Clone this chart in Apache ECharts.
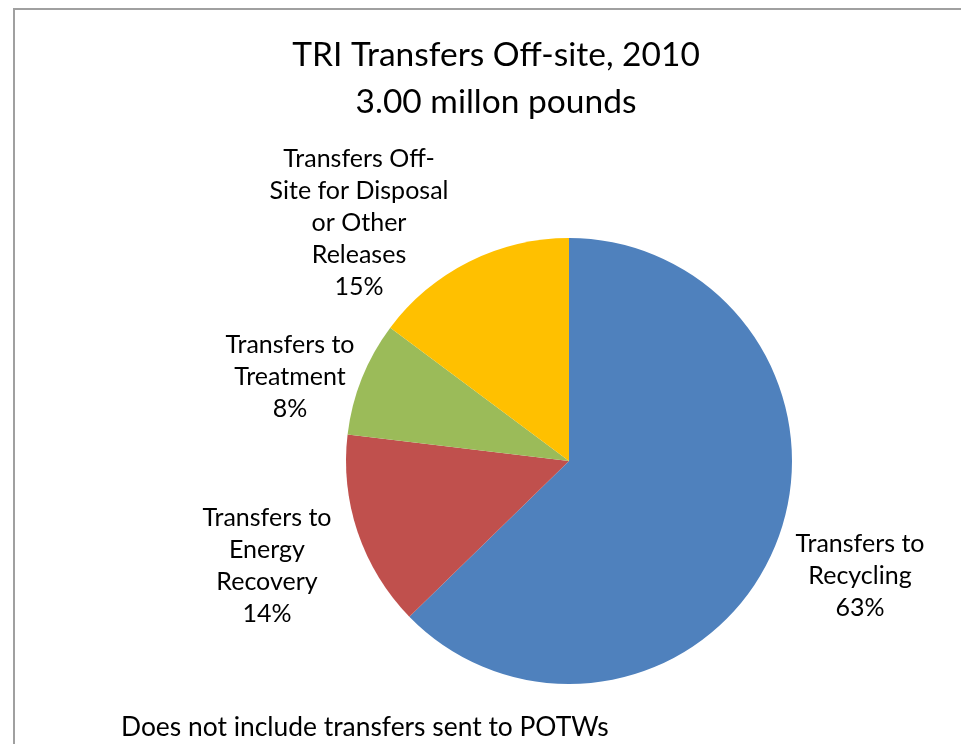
<!DOCTYPE html>
<html>
<head>
<meta charset="utf-8">
<script src="https://cdn.jsdelivr.net/npm/echarts@6/dist/echarts.min.js"></script>
<style>html,body{margin:0;padding:0;background:#fff;}#c{width:961px;height:744px;}</style>
</head>
<body>
<div id="c"></div>
<script>
// Data (million pounds), clockwise from 12 o'clock
const categories = [
  'Transfers to\nRecycling',
  'Transfers to\nEnergy\nRecovery',
  'Transfers to\nTreatment',
  'Transfers Off-\nSite for Disposal\nor Other\nReleases'
];
const values = [1.881, 0.426, 0.249, 0.444];
const colors = ['#4F81BD', '#C0504D', '#9BBB59', '#FFC000'];
const titleText = 'TRI Transfers Off-site, 2010\n3.00 millon pounds';
const noteText = 'Does not include transfers sent to POTWs';

const FONT = 'Lato, "Open Sans", sans-serif';
// label block centres (layout only)
const labelPos = [[860, 576], [267, 566], [290, 377], [359, 223]];

const chart = echarts.init(document.getElementById('c'), null, {renderer: 'canvas'});
chart.setOption({
  animation: false,
  backgroundColor: '#fff',
  title: [{
    text: titleText,
    left: 491, top: 27, textAlign: 'center',
    textStyle: {fontFamily: FONT, fontSize: 33.5, fontWeight: 'normal', color: '#000', lineHeight: 47}
  }, {
    text: noteText,
    left: 116, top: 705,
    textStyle: {fontFamily: FONT, fontSize: 26.4, fontWeight: 'normal', color: '#000', lineHeight: 34}
  }],
  graphic: [{
    type: 'rect', silent: true, z: -1,
    shape: {x: 14, y: 9, width: 1200, height: 1200},
    style: {fill: 'none', stroke: '#a0a0a0', lineWidth: 2}
  }],
  series: [{
    type: 'pie',
    center: [569, 461],
    radius: [0, 223],
    startAngle: 90,
    clockwise: true,
    silent: true,
    itemStyle: {borderWidth: 0},
    data: categories.map((c, i) => ({name: c, value: values[i], itemStyle: {color: colors[i]}})),
    label: {
      show: true,
      overflow: 'none',
      formatter: p => p.name + '\n' + Math.round(p.percent) + '%',
      fontFamily: FONT, fontSize: 25, color: '#000', lineHeight: 32, align: 'center'
    },
    labelLine: {show: false},
    labelLayout: function (params) {
      const p = labelPos[params.dataIndex];
      return {x: p[0], y: p[1], align: 'center', verticalAlign: 'middle'};
    }
  }]
});
</script>
</body>
</html>
